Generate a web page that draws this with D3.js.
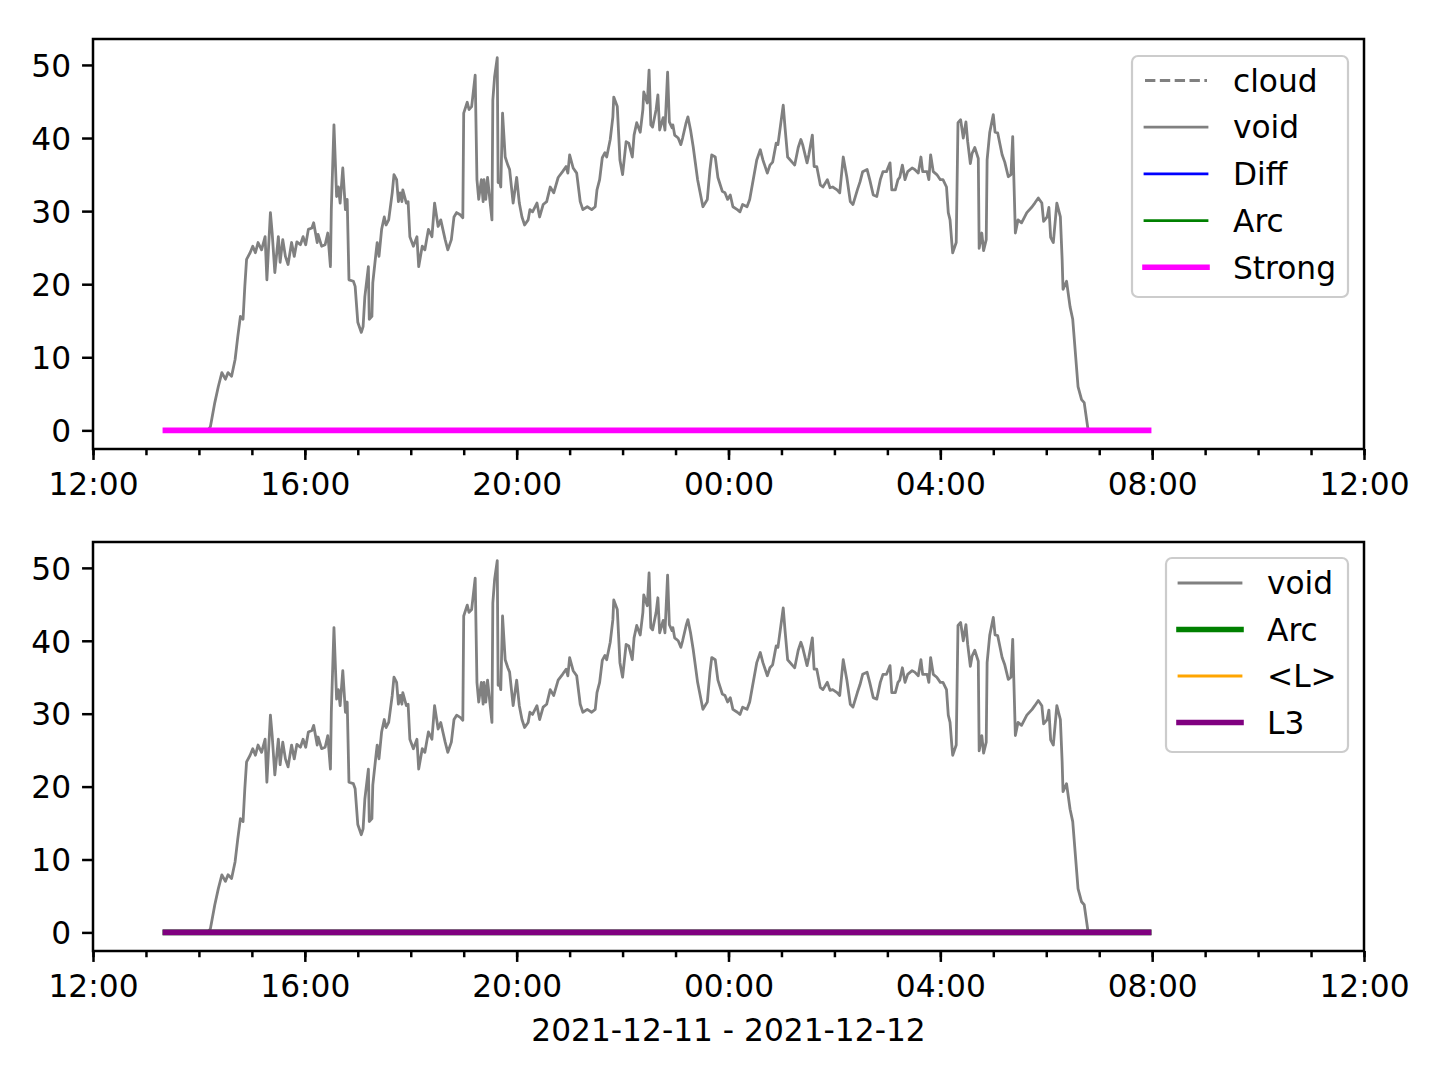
<!DOCTYPE html>
<html><head><meta charset="utf-8">
<script src="https://cdn.jsdelivr.net/npm/d3@7"></script>
<style>
body{margin:0;background:#fff}
svg{display:block}
text{font-family:"DejaVu Sans","Liberation Sans",sans-serif;fill:#000}
</style>
</head><body>
<svg id="chart" width="1440" height="1080"></svg>
<script>
// ---------------- DATA ----------------
const voidTimes = [
"13:22","14:10","14:13","14:18","14:22","14:26","14:30","14:33","14:37","14:41","14:44","14:47","14:50","14:52","14:54","14:58",
"15:01","15:04","15:07","15:11","15:15","15:17","15:21","15:23","15:26","15:30","15:32","15:35","15:38","15:41","15:45","15:48","15:51","15:55","15:58",
"16:01","16:04","16:08","16:10","16:14","16:15","16:19","16:23","16:26","16:29","16:30","16:33","16:36","16:38","16:40","16:43","16:46","16:48","16:50","16:55","16:57",
"17:00","17:04","17:06","17:08","17:12","17:13","17:16","17:17","17:21","17:22","17:24","17:27","17:30","17:32","17:35","17:39","17:41","17:44","17:46","17:48","17:50","17:51","17:55","17:57","17:59",
"18:03","18:07","18:09","18:13","18:16","18:20","18:24","18:27","18:31","18:34","18:39","18:42","18:46","18:49","18:52","18:56","18:59",
"19:00","19:04","19:06","19:09","19:13","19:15","19:17","19:20","19:22","19:23","19:25","19:27","19:32","19:33","19:35","19:38","19:39","19:41","19:42","19:44","19:47","19:50","19:52","19:56",
"20:00","20:03","20:06","20:09","20:13","20:15","20:18","20:23","20:26","20:30","20:34","20:38","20:42","20:47","20:52","20:56","20:58",
"21:00","21:04","21:08","21:12","21:15","21:20","21:25","21:29","21:31","21:34","21:37","21:40","21:42","21:46","21:49","21:50","21:54","21:57",
"22:00","22:04","22:07","22:11","22:13","22:16","22:20","22:23","22:24","22:28","22:30","22:32","22:34","22:38","22:40","22:42","22:46","22:48","22:51","22:53","22:56","22:57","22:59",
"23:03","23:06","23:08","23:12","23:14","23:17","23:20","23:22","23:25","23:31","23:36","23:39","23:41","23:45","23:48","23:53","23:56","23:59",
"00:02","00:05","00:10","00:13","00:16","00:21","00:24","00:28","00:32","00:36","00:39","00:44","00:47","00:50","00:54","00:56",
"01:02","01:04","01:07","01:12","01:15","01:19","01:22","01:24","01:29","01:31","01:35","01:37","01:40","01:44","01:47","01:52","01:55","01:58",
"02:03","02:06","02:10","02:14","02:18","02:21","02:26","02:29","02:32","02:37","02:40","02:44","02:48","02:52","02:55","02:59",
"03:03","03:05","03:09","03:12","03:14","03:17","03:20","03:23","03:28","03:31","03:35","03:38","03:40","03:45","03:47","03:49","03:52","03:56",
"04:00","04:03","04:07","04:09","04:11","04:13","04:14","04:18","04:20","04:23","04:26","04:29","04:31","04:34","04:36","04:39","04:43","04:44","04:47","04:49","04:52","04:53","04:56",
"05:00","05:02","05:05","05:10","05:13","05:17","05:20","05:22","05:25","05:28","05:32","05:38","05:44","05:47","05:51","05:55","05:57",
"06:01","06:03","06:05","06:08","06:12","06:16","06:18","06:19","06:23","06:27","06:30","06:36","06:40","06:43","06:47","06:48","07:56"
];
const voidValues = [
0,0,0.5,3.8,6.0,7.9,7.0,7.9,7.4,9.7,12.8,15.6,15.2,19.7,23.4,24.3,
25.2,24.3,25.7,24.7,26.5,20.6,29.8,27.0,21.6,26.5,23.0,26.1,23.8,22.7,25.7,23.8,25.8,25.4,26.5,
25.4,27.5,27.7,28.4,25.7,26.8,25.2,25.4,27.0,22.4,30.2,41.8,32.0,33.3,31.1,35.9,30.2,31.6,20.6,20.4,19.7,
14.8,13.4,14.2,18.3,22.4,15.2,15.6,20.2,24.7,25.7,23.8,27.5,29.2,28.1,28.8,32.5,35.0,34.3,31.3,32.5,31.3,32.9,31.1,31.3,26.5,
25.2,26.5,22.4,25.2,24.7,27.5,26.5,31.1,27.9,28.8,26.1,24.7,26.1,29.2,29.8,29.5,29.1,
43.4,44.9,43.9,44.3,48.6,34.3,31.6,34.3,31.3,34.3,31.6,34.6,28.8,45.2,48.4,51.0,33.9,33.9,33.3,43.4,37.4,36.3,35.7,31.1,
34.6,31.1,29.2,28.1,28.8,30.2,29.9,31.1,29.2,30.9,31.3,33.3,32.5,34.6,35.4,36.1,35.2,
37.7,35.9,35.2,31.3,30.2,30.6,30.2,30.6,32.9,34.3,37.3,38.0,37.4,39.8,42.9,45.6,44.3,37.0,
35.0,39.5,39.3,37.4,40.4,42.1,40.8,43.9,46.3,44.8,49.3,41.8,41.5,43.9,45.9,41.1,42.8,41.1,49.0,42.2,41.4,41.8,40.4,
40.0,39.1,40.0,42.1,42.9,41.1,38.8,37.0,34.3,30.6,31.6,35.7,37.7,37.4,34.6,32.7,32.5,31.6,
32.2,30.6,30.2,29.9,30.9,30.6,31.6,34.3,37.0,38.4,37.0,35.2,36.3,36.7,39.3,39.1,
44.5,41.5,37.4,36.7,36.3,38.7,39.8,39.1,36.6,37.7,40.4,36.1,36.1,33.6,33.3,34.3,33.2,33.3,
32.9,32.5,37.4,34.7,31.3,30.9,32.9,34.0,35.4,35.7,34.3,32.2,32.0,34.3,35.4,35.4,
36.6,32.9,32.9,34.3,34.6,36.3,34.3,35.4,35.9,35.7,35.2,37.4,35.4,35.4,34.3,37.7,35.4,35.0,
34.3,34.3,33.3,29.8,28.8,25.7,24.3,25.7,42.1,42.5,40.0,42.2,39.5,36.5,37.9,38.7,37.2,24.9,27.0,24.6,26.1,37.0,40.8,
43.2,40.8,40.7,37.7,36.7,34.7,35.0,40.2,27.0,28.8,28.4,29.8,30.6,31.1,31.8,31.1,28.6,
29.2,30.5,26.4,25.7,31.1,29.2,23.4,19.3,20.4,16.9,15.2,6.0,4.2,3.8,0.4,0,0
];
// the remaining series are flat at zero over the same span
const flatTimes = ["13:22","07:56"];
const cloudValues  = [0,0];
const diffValues   = [0,0];
const arcValues    = [0,0];
const strongValues = [0,0];
const lValues      = [0,0];
const l3Values     = [0,0];

const yTickValues = [0,10,20,30,40,50];
const xLabelText = "2021-12-11 - 2021-12-12";
const xStart = "2021-12-11 12:00", xEnd = "2021-12-12 12:00";

// ---------------- HELPERS ----------------
const parseFull = d3.timeParse("%Y-%m-%d %H:%M");
function toDate(t){
  const h = +t.split(":")[0];
  return parseFull((h >= 12 ? "2021-12-11 " : "2021-12-12 ") + t);
}
function series(times, values){ return times.map((t,i)=>({t:toDate(t), v:values[i]})); }

const PT = 225/72;        // 1pt in px
const LWPX = 2.8;         // px per linewidth unit for data lines
const FS = 10*PT;         // 10pt font
const svg = d3.select("#chart");
const L = 93, R = 1364;

const x = d3.scaleTime().domain([parseFull(xStart), parseFull(xEnd)]).range([L, R]);
const allVals = voidValues.concat(cloudValues, diffValues, arcValues, strongValues, lValues, l3Values);
const vmin = d3.min(allVals), vmax = d3.max(allVals), span = vmax - vmin;
const yDomain = [vmin - 0.05*span, vmax + 0.05*span];

const colors = {gray:"#808080", blue:"#0000ff", green:"#008000", magenta:"#ff00ff", orange:"#ffa500", purple:"#800080"};

function panel(top, bottom, lines, legendCfg, id){
  const y = d3.scaleLinear().domain(yDomain).range([bottom, top]);
  const g = svg.append("g");
  g.append("clipPath").attr("id","clip"+id).append("rect")
    .attr("x",L).attr("y",top).attr("width",R-L).attr("height",bottom-top);
  const lineGen = d3.line().x(d=>x(d.t)).y(d=>y(d.v));
  const plot = g.append("g").attr("clip-path",`url(#clip${id})`);
  lines.forEach(s=>{
    plot.append("path").datum(series(s.times, s.values))
      .attr("d", lineGen).attr("fill","none")
      .attr("stroke", s.color).attr("stroke-width", s.lw*LWPX)
      .attr("stroke-linejoin","round")
      .attr("stroke-linecap", s.dash ? "butt" : "square")
      .attr("stroke-dasharray", s.dash ? `${3.7*LWPX*s.lw},${1.6*LWPX*s.lw}` : null);
  });
  // minor x ticks
  const minor = d3.axisBottom(x).ticks(d3.timeHour.every(1)).tickSize(2*PT).tickFormat("").tickSizeOuter(0);
  const gm = g.append("g").attr("transform",`translate(0,${bottom})`).call(minor);
  gm.select(".domain").remove();
  gm.selectAll("line").attr("stroke","#000").attr("stroke-width",0.8*PT);
  // major x ticks
  const major = d3.axisBottom(x).ticks(d3.timeHour.every(4)).tickFormat(d3.timeFormat("%H:%M"))
    .tickSize(3.5*PT).tickPadding(3.5*PT).tickSizeOuter(0);
  const gx = g.append("g").attr("transform",`translate(0,${bottom})`).call(major);
  gx.select(".domain").remove();
  gx.selectAll("line").attr("stroke","#000").attr("stroke-width",0.8*PT);
  gx.selectAll("text").attr("font-size",FS).attr("font-family","DejaVu Sans").attr("dy",null)
    .attr("y", 46).attr("fill","#000");
  // y axis
  const ya = d3.axisLeft(y).tickValues(yTickValues).tickSize(3.5*PT).tickPadding(3.5*PT).tickSizeOuter(0);
  const gy = g.append("g").attr("transform",`translate(${L},0)`).call(ya);
  gy.select(".domain").remove();
  gy.selectAll("line").attr("stroke","#000").attr("stroke-width",0.8*PT);
  gy.selectAll("text").attr("font-size",FS).attr("font-family","DejaVu Sans").attr("dy","0.36em").attr("fill","#000");
  // spines
  g.append("rect").attr("x",L).attr("y",top).attr("width",R-L).attr("height",bottom-top)
    .attr("fill","none").attr("stroke","#000").attr("stroke-width",0.8*PT);
  // legend
  const lg = g.append("g");
  lg.append("rect").attr("x",legendCfg.x0).attr("y",legendCfg.y0)
    .attr("width",legendCfg.x1-legendCfg.x0).attr("height",legendCfg.y1-legendCfg.y0)
    .attr("rx",6).attr("ry",6).attr("fill","#fff").attr("fill-opacity",0.8)
    .attr("stroke","#cccccc").attr("stroke-width",2.2);
  lines.filter(s=>s.label).forEach((s,i)=>{
    const cy = legendCfg.firstY + i*legendCfg.step;
    lg.append("line").attr("x1",legendCfg.hx0).attr("x2",legendCfg.hx1).attr("y1",cy).attr("y2",cy)
      .attr("stroke",s.color).attr("stroke-width",s.lw*LWPX)
      .attr("stroke-linecap", s.dash ? "butt" : "square")
      .attr("stroke-dasharray", s.dash ? `${3.7*LWPX*s.lw},${1.6*LWPX*s.lw}` : null);
    lg.append("text").attr("x",legendCfg.tx).attr("y",cy).attr("dy","0.36em")
      .attr("font-size",FS).text(s.label);
  });
  return g;
}

// top panel
panel(39, 449, [
  {label:"cloud", times:flatTimes, values:cloudValues, color:colors.gray, lw:1, dash:true},
  {label:"void", times:voidTimes, values:voidValues, color:colors.gray, lw:1},
  {label:"Diff", times:flatTimes, values:diffValues, color:colors.blue, lw:1},
  {label:"Arc", times:flatTimes, values:arcValues, color:colors.green, lw:1},
  {label:"Strong", times:flatTimes, values:strongValues, color:colors.magenta, lw:2}
], {x0:1132, x1:1348, y0:56, y1:297, hx0:1145, hx1:1207, tx:1233, firstY:80.5, step:46.7}, "a");

// bottom panel
panel(542, 951, [
  {label:"void", times:voidTimes, values:voidValues, color:colors.gray, lw:1},
  {label:"Arc", times:flatTimes, values:arcValues, color:colors.green, lw:2},
  {label:"<L>", times:flatTimes, values:lValues, color:colors.orange, lw:1},
  {label:"L3", times:flatTimes, values:l3Values, color:colors.purple, lw:2}
], {x0:1166, x1:1348, y0:558, y1:752, hx0:1179, hx1:1241, tx:1267, firstY:583, step:46.5}, "b");

// x label
svg.append("text").attr("x",(L+R)/2).attr("y",1041).attr("text-anchor","middle")
  .attr("font-size",FS).text(xLabelText);
</script>
</body></html>
